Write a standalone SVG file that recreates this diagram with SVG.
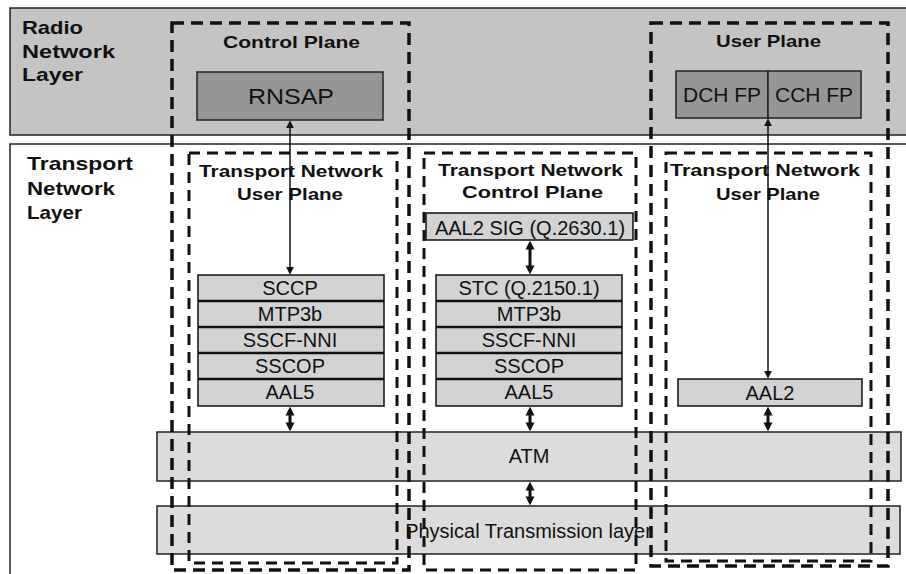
<svg xmlns="http://www.w3.org/2000/svg" width="906" height="574" viewBox="0 0 906 574">
<defs>
<style>
text{font-family:"Liberation Sans",Arial,sans-serif;fill:#111;}
.hd{font-weight:bold;font-size:17px;}
.lay{font-weight:bold;font-size:19px;}
.lbl{font-size:20px;text-anchor:middle;}
.band{stroke:#222;stroke-width:1.5;}
.dark{fill:#959595;stroke:#222;stroke-width:1.5;}
.stk{fill:#d3d3d3;stroke:#111;stroke-width:1.5;}
.div{stroke:#111;stroke-width:2.5;}
.bar{fill:#dcdcdc;stroke:#222;stroke-width:1.5;}
.dash{fill:none;stroke:#111;stroke-width:3;stroke-dasharray:11 7;}
.dashO{fill:none;stroke:#111;stroke-width:3.5;stroke-dasharray:12 7;}
.thin{stroke:#111;stroke-width:1.5;fill:none;marker-start:url(#ahThin);marker-end:url(#ahThin);}
.thick{stroke:#111;stroke-width:3;fill:none;marker-start:url(#ahThick);marker-end:url(#ahThick);}
</style>
<marker id="ahThin" viewBox="0 0 10 10" refX="6" refY="5" markerWidth="8" markerHeight="8" markerUnits="userSpaceOnUse" orient="auto-start-reverse"><path d="M0,0 L10,5 L0,10 z" fill="#111"/></marker>
<marker id="ahThick" viewBox="0 0 10 10" refX="4" refY="5" markerWidth="9" markerHeight="10" markerUnits="userSpaceOnUse" orient="auto-start-reverse"><path d="M0,0 L10,5 L0,10 z" fill="#111"/></marker>
</defs>
<rect width="906" height="574" fill="#fff"/>

<g id="radio-network-layer">
<rect class="band" x="10" y="8" width="905" height="127" fill="#c4c4c4"/>
<text class="lay" x="22" y="34" textLength="61" lengthAdjust="spacingAndGlyphs">Radio</text>
<text class="lay" x="22" y="58" textLength="93" lengthAdjust="spacingAndGlyphs">Network</text>
<text class="lay" x="22" y="81" textLength="61" lengthAdjust="spacingAndGlyphs">Layer</text>
</g>

<g id="transport-network-layer">
<rect class="band" x="10" y="144" width="905" height="440" fill="#fff"/>
<text class="lay" x="27" y="170" textLength="106" lengthAdjust="spacingAndGlyphs">Transport</text>
<text class="lay" x="27" y="195" textLength="88" lengthAdjust="spacingAndGlyphs">Network</text>
<text class="lay" x="27" y="219" textLength="55" lengthAdjust="spacingAndGlyphs">Layer</text>
</g>

<g id="atm">
<rect class="bar" x="157" y="432" width="744" height="49"/>
<text class="lbl" x="529" y="463">ATM</text>
</g>

<g id="physical">
<rect class="bar" x="157" y="506" width="743" height="48"/>
<text class="lbl" x="528.5" y="538">Physical Transmission layer</text>
</g>

<g id="rnsap">
<rect class="dark" x="197" y="72" width="186" height="48"/>
<text x="248" y="104" font-size="22" textLength="86" lengthAdjust="spacingAndGlyphs">RNSAP</text>
</g>

<g id="dch-fp">
<rect class="dark" x="676" y="71" width="92" height="47"/>
<text x="683" y="102" font-size="20" textLength="78" lengthAdjust="spacingAndGlyphs">DCH FP</text>
</g>
<g id="cch-fp">
<rect class="dark" x="768" y="71" width="93" height="47"/>
<text x="775" y="102" font-size="20" textLength="78" lengthAdjust="spacingAndGlyphs">CCH FP</text>
</g>

<g id="tnup-left-stack">
<rect class="stk" x="198" y="275" width="186" height="131"/>
<line class="div" x1="198" y1="301" x2="384" y2="301"/>
<line class="div" x1="198" y1="327" x2="384" y2="327"/>
<line class="div" x1="198" y1="353" x2="384" y2="353"/>
<line class="div" x1="198" y1="379" x2="384" y2="379"/>
<text class="lbl" x="290" y="295">SCCP</text>
<text class="lbl" x="290" y="321">MTP3b</text>
<text class="lbl" x="290" y="347">SSCF-NNI</text>
<text class="lbl" x="290" y="373">SSCOP</text>
<text class="lbl" x="290" y="399">AAL5</text>
</g>

<g id="aal2-sig">
<rect class="stk" x="426" y="213" width="207" height="27"/>
<text class="lbl" x="530" y="235" font-size="21">AAL2 SIG (Q.2630.1)</text>
</g>

<g id="tncp-stack">
<rect class="stk" x="436" y="275" width="186" height="131"/>
<line class="div" x1="436" y1="301" x2="622" y2="301"/>
<line class="div" x1="436" y1="327" x2="622" y2="327"/>
<line class="div" x1="436" y1="353" x2="622" y2="353"/>
<line class="div" x1="436" y1="379" x2="622" y2="379"/>
<text class="lbl" x="529" y="295">STC (Q.2150.1)</text>
<text class="lbl" x="529" y="321">MTP3b</text>
<text class="lbl" x="529" y="347">SSCF-NNI</text>
<text class="lbl" x="529" y="373">SSCOP</text>
<text class="lbl" x="529" y="399">AAL5</text>
</g>

<g id="aal2">
<rect class="stk" x="678" y="379" width="184" height="27"/>
<text class="lbl" x="770" y="400">AAL2</text>
</g>

<g id="control-plane">
<rect class="dashO" x="172" y="23" width="237" height="547"/>
<text class="hd" x="223" y="48" textLength="137" lengthAdjust="spacingAndGlyphs">Control Plane</text>
</g>

<g id="user-plane">
<rect class="dashO" x="651" y="23" width="237" height="543"/>
<text class="hd" x="716" y="47" textLength="105" lengthAdjust="spacingAndGlyphs">User Plane</text>
</g>

<g id="tn-user-plane-left">
<rect class="dash" x="189" y="153" width="208" height="410"/>
<text class="hd" x="199" y="177" textLength="184" lengthAdjust="spacingAndGlyphs">Transport Network</text>
<text class="hd" x="237" y="200" textLength="106" lengthAdjust="spacingAndGlyphs">User Plane</text>
</g>

<g id="tn-control-plane">
<rect class="dash" x="424" y="153" width="212" height="417"/>
<text class="hd" x="438" y="176" textLength="185" lengthAdjust="spacingAndGlyphs">Transport Network</text>
<text class="hd" x="462" y="198" textLength="141" lengthAdjust="spacingAndGlyphs">Control Plane</text>
</g>

<g id="tn-user-plane-right">
<rect class="dash" x="666" y="153" width="205" height="408"/>
<text class="hd" x="670" y="176" textLength="190" lengthAdjust="spacingAndGlyphs">Transport Network</text>
<text class="hd" x="716" y="200" textLength="104" lengthAdjust="spacingAndGlyphs">User Plane</text>
</g>

<g id="connectors">
<line class="thin" x1="290" y1="123.5" x2="290" y2="271.5"/>
<line class="thin" x1="768" y1="121.5" x2="768" y2="375.5"/>
<line class="thick" x1="530" y1="246" x2="530" y2="269"/>
<line class="thick" x1="290" y1="412" x2="290" y2="426"/>
<line class="thick" x1="530" y1="412" x2="530" y2="426"/>
<line class="thick" x1="768" y1="412" x2="768" y2="426"/>
<line class="thick" x1="530" y1="487" x2="530" y2="500"/>
</g>
</svg>
